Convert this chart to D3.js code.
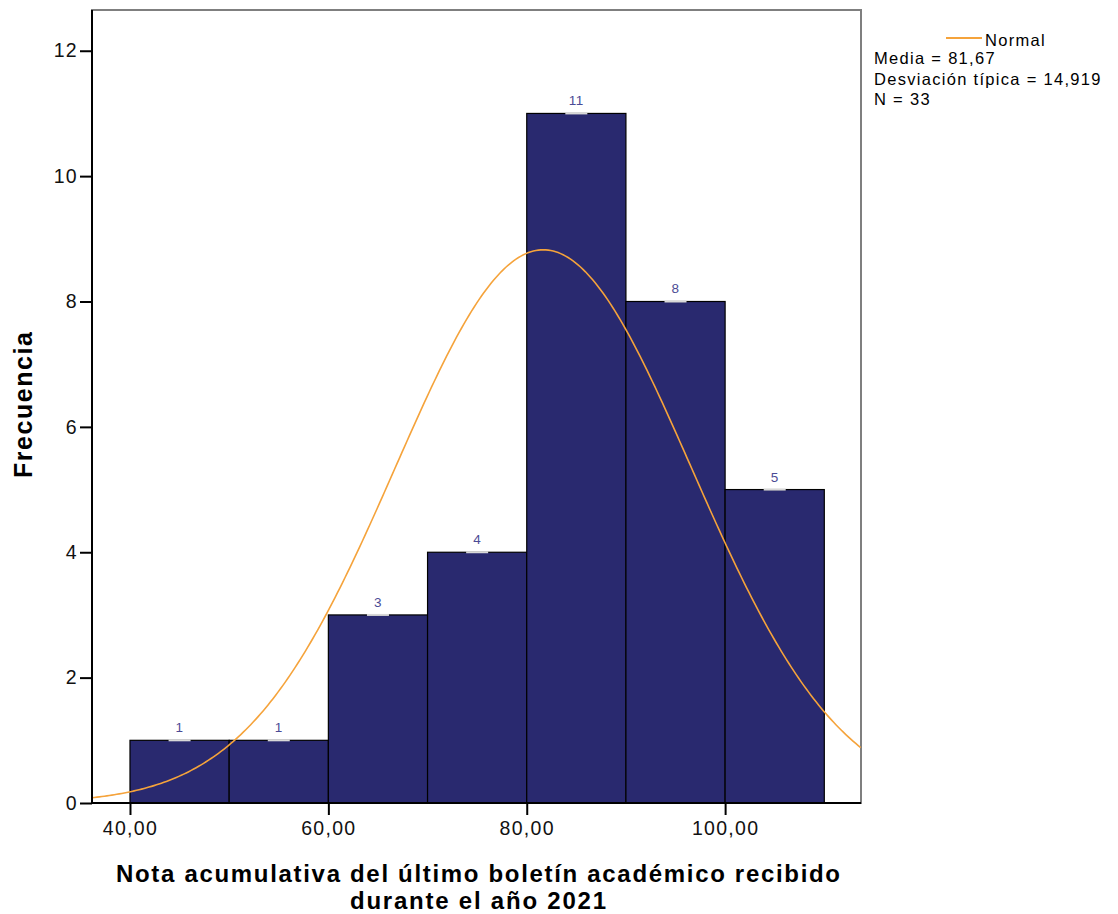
<!DOCTYPE html>
<html>
<head>
<meta charset="utf-8">
<script src="https://cdn.jsdelivr.net/npm/d3@7"></script>
<style>
body { margin: 0; background: #fff; }
svg text { font-family: "Liberation Sans", Arial, sans-serif; }
</style>
</head>
<body>
<div id="chart"></div>
<script>
// histogram bins (lower edge) and counts
const binStarts = [40, 50, 60, 70, 80, 90, 100];
const binWidth = 10;
const counts = [1, 1, 3, 4, 11, 8, 5];
const xTicks = [40, 60, 80, 100];
const yTicks = [0, 2, 4, 6, 8, 10, 12];
const media = 81.67;
const desv = 14.919;
const n = 33;
const legLines = ["Media = 81,67", "Desviación típica = 14,919", "N = 33"];

const width = 1118, height = 914;
const margin = { top: 10, right: 257, bottom: 111, left: 92 };
const w = width - margin.left - margin.right;
const h = height - margin.top - margin.bottom;

const svg = d3.select("#chart").append("svg")
    .attr("width", width)
    .attr("height", height);

const g = svg.append("g")
    .attr("transform", `translate(${margin.left}, ${margin.top})`);

const x = d3.scaleLinear().domain([36.17, 113.7]).range([0, w]);
const y = d3.scaleLinear().domain([0, 12.65]).range([h, 0]);

// frame
g.append("rect")
    .attr("width", w).attr("height", h)
    .attr("fill", "none").attr("stroke", "#7f7f7f").attr("stroke-width", 2);

// bars
g.selectAll(".bar")
    .data(counts)
    .enter()
    .append("rect")
    .attr("class", "bar")
    .attr("x", (d, i) => x(binStarts[i]))
    .attr("y", d => y(d))
    .attr("width", x(binStarts[0] + binWidth) - x(binStarts[0]))
    .attr("height", d => h - y(d))
    .attr("fill", "#29296f")
    .attr("stroke", "#000")
    .attr("stroke-width", 1.2);

// small label background + label
g.selectAll(".lblbg")
    .data(counts)
    .enter()
    .append("rect")
    .attr("x", (d, i) => x(binStarts[i] + binWidth / 2) - 11)
    .attr("y", d => y(d) - 1)
    .attr("width", 22)
    .attr("height", 2)
    .attr("fill", "#d8d8d8");

g.selectAll(".lbl")
    .data(counts)
    .enter()
    .append("text")
    .attr("x", (d, i) => x(binStarts[i] + binWidth / 2))
    .attr("y", d => y(d) - 8)
    .attr("text-anchor", "middle")
    .attr("font-size", 13.5)
    .attr("letter-spacing", 0.5)
    .attr("fill", "#4b4b95")
    .text(d => d);

// normal curve from the stated mean, sd and N
const xs = d3.range(x.domain()[0], x.domain()[1] + 0.01, 0.25);
const normal = xs.map(v => [v, n * binWidth / (desv * Math.sqrt(2 * Math.PI)) * Math.exp(-0.5 * ((v - media) / desv) ** 2)]);

g.append("path")
    .datum(normal)
    .attr("fill", "none")
    .attr("stroke", "#f5a33b")
    .attr("stroke-width", 1.6)
    .attr("d", d3.line().x(d => x(d[0])).y(d => y(d[1])));

// axes
const yAxis = g.append("g")
    .call(d3.axisLeft(y).tickValues(yTicks).tickSize(12).tickPadding(2).tickFormat(d3.format("d")));
const xAxis = g.append("g")
    .attr("transform", `translate(0, ${h})`)
    .call(d3.axisBottom(x).tickValues(xTicks).tickSize(12).tickPadding(6).tickFormat(d => d + ",00"));

[xAxis, yAxis].forEach(a => {
    a.select(".domain").attr("stroke", "#000").attr("stroke-width", 2);
    a.selectAll(".tick line").attr("stroke", "#000").attr("stroke-width", 2);
    a.selectAll(".tick text").attr("font-size", 19.5).attr("fill", "#111")
        .attr("letter-spacing", 1.3)
        .style("font-family", "'Liberation Sans', Arial, sans-serif");
});
yAxis.select(".domain").attr("d", `M0,0V${h}`);
xAxis.select(".domain").attr("d", `M0,0H${w}`);

// axis titles
svg.append("text")
    .attr("transform", `translate(32, 405) rotate(-90)`)
    .attr("text-anchor", "middle")
    .attr("font-size", 25).attr("font-weight", "bold")
    .attr("textLength", 146)
    .text("Frecuencia");

svg.append("text")
    .attr("x", 478).attr("y", 882)
    .attr("text-anchor", "middle")
    .attr("font-size", 24).attr("font-weight", "bold")
    .attr("textLength", 724)
    .text("Nota acumulativa del último boletín académico recibido");
svg.append("text")
    .attr("x", 478).attr("y", 909)
    .attr("text-anchor", "middle")
    .attr("font-size", 24).attr("font-weight", "bold")
    .attr("textLength", 256)
    .text("durante el año 2021");

// legend
const leg = svg.append("g");
leg.append("line")
    .attr("x1", 946).attr("x2", 982).attr("y1", 38).attr("y2", 38)
    .attr("stroke", "#f5a33b").attr("stroke-width", 2);
leg.append("text").attr("x", 985).attr("y", 46)
    .attr("font-size", 16.5).attr("letter-spacing", 1.3).text("Normal");
leg.selectAll(".ll")
    .data(legLines)
    .enter()
    .append("text")
    .attr("x", 874)
    .attr("y", (d, i) => 64 + i * 20.5)
    .attr("font-size", 16.5)
    .attr("letter-spacing", 1.3)
    .text(d => d);
</script>
</body>
</html>
